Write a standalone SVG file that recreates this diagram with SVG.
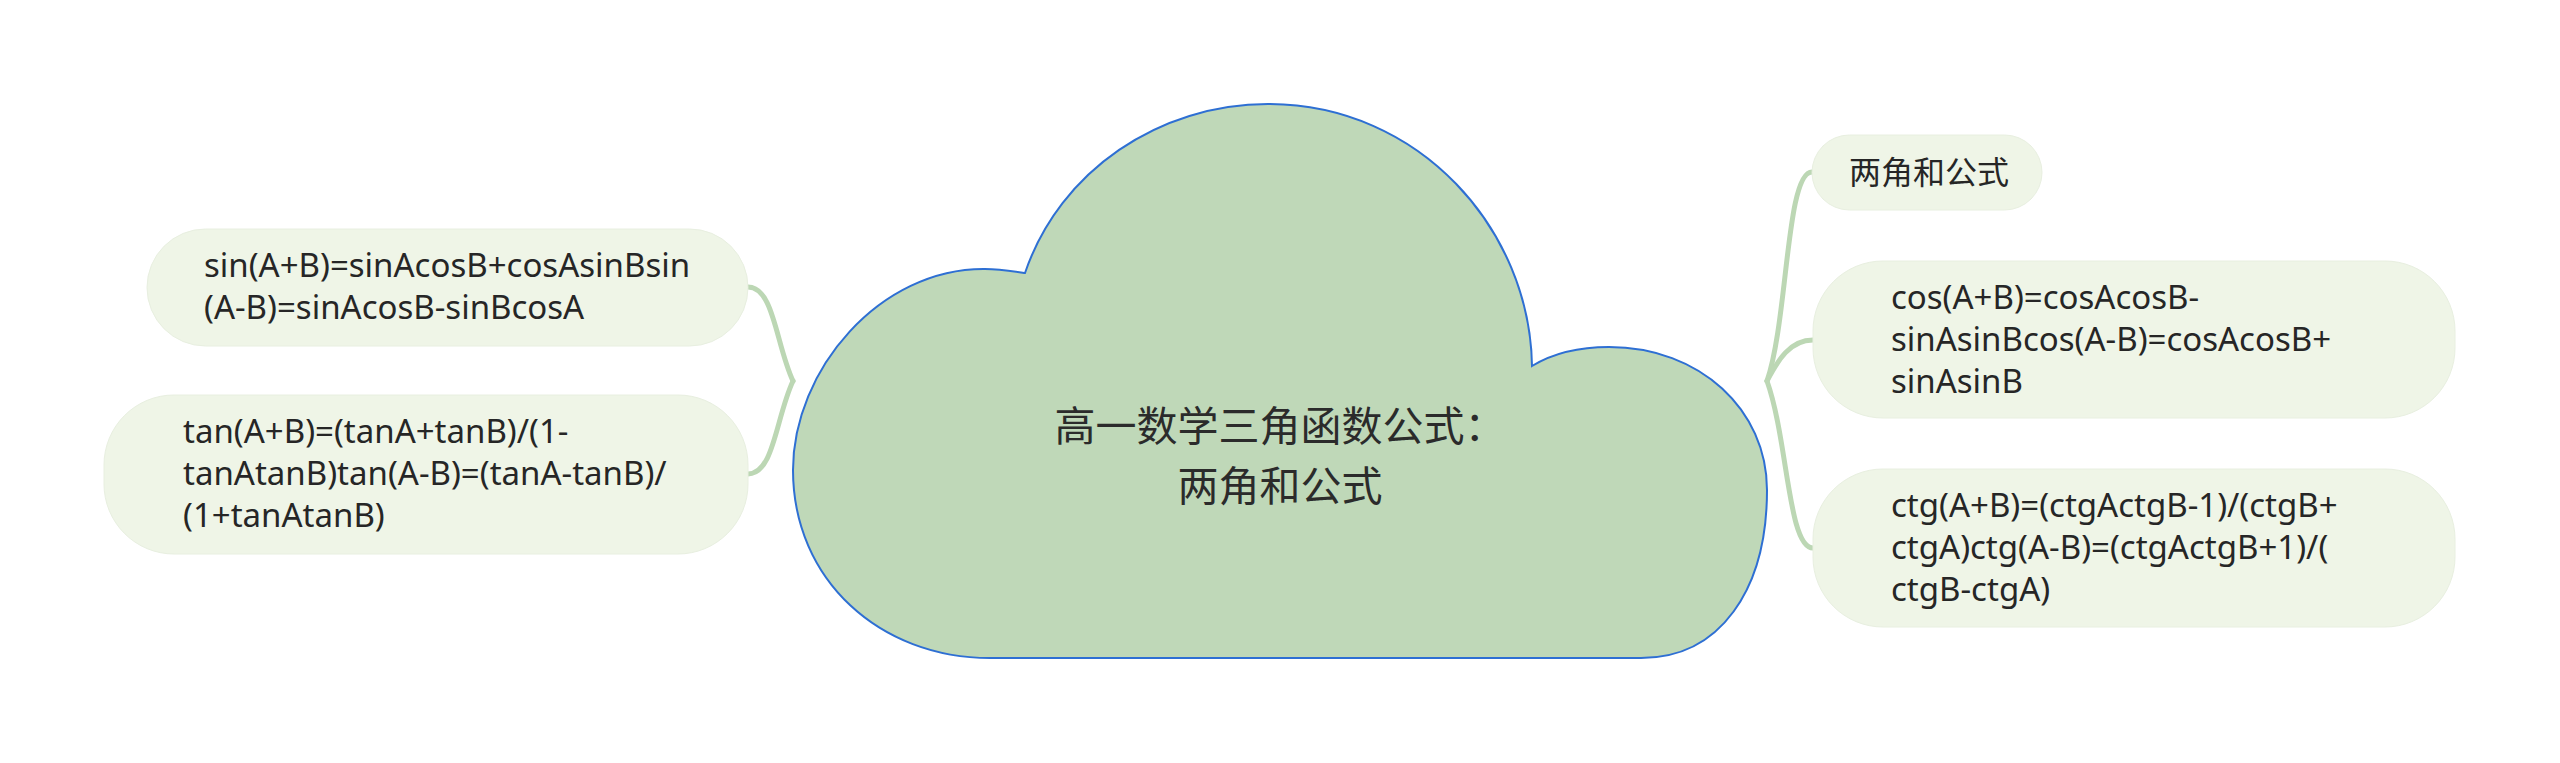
<svg xmlns="http://www.w3.org/2000/svg" width="2560" height="763" viewBox="0 0 2560 763">
<style>
.bg{fill:#ffffff}
.node rect{fill:#eff5e7;stroke:#e8efe0;stroke-width:1}
.t{font-family:"Noto Sans","Noto Sans CJK SC",sans-serif;font-size:33px;fill:#262626}
.tc{font-family:"Noto Sans","Noto Sans CJK SC",sans-serif;font-size:32px;fill:#262626}
.center{font-family:"Noto Sans CJK SC","Noto Sans",sans-serif;font-size:41px;fill:#2b2b2b;text-anchor:middle}
.conn path{fill:none;stroke:#bcd7b4;stroke-width:5;stroke-linecap:round}
.cloud{fill:#bfd8b8;stroke:#2e6fd3;stroke-width:2}
</style>
<rect class="bg" x="0" y="0" width="2560" height="763"/>
<g id="connectors" class="conn">
<path d="M 793 381 C 776 345, 774 287, 748 287"/>
<path d="M 793 381 C 776 417, 774 474, 748 474"/>
<path d="M 1767 381 C 1788 320, 1786 172, 1812 172"/>
<path d="M 1767 381 C 1778 360, 1790 340, 1813 340"/>
<path d="M 1767 381 C 1788 440, 1788 548, 1813 548"/>
</g>
<g id="center">
<path class="cloud" d="M 990 658 C 880 658, 793 580, 793 470 C 793 370, 880 268, 985 269 C 1000 269, 1012 271, 1025 273 C 1060 170, 1160 104, 1268 104 C 1420 104, 1530 230, 1532 366 C 1555 352, 1580 347, 1609 347 C 1700 347, 1767 410, 1767 490 C 1767 590, 1720 658, 1641 658 Z"/>
<text class="center"><tspan x="1280" y="441">高一数学三角函数公式：</tspan><tspan x="1280" y="501">两角和公式</tspan></text>
</g>
<g id="node-l1" class="node">
<rect x="147" y="229" width="601" height="117" rx="58.5"/>
<text class="t"><tspan x="204" y="277">sin(A+B)=sinAcosB+cosAsinBsin</tspan><tspan x="204" y="319">(A-B)=sinAcosB-sinBcosA</tspan></text>
</g>
<g id="node-l2" class="node">
<rect x="104" y="395" width="644" height="159" rx="70"/>
<text class="t"><tspan x="183" y="443">tan(A+B)=(tanA+tanB)/(1-</tspan><tspan x="183" y="485">tanAtanB)tan(A-B)=(tanA-tanB)/</tspan><tspan x="183" y="527">(1+tanAtanB)</tspan></text>
</g>
<g id="node-r1" class="node">
<rect x="1812" y="135" width="230" height="75" rx="37.5"/>
<text class="tc" x="1849" y="184">两角和公式</text>
</g>
<g id="node-r2" class="node">
<rect x="1813" y="261" width="642" height="157" rx="70"/>
<text class="t"><tspan x="1891" y="309">cos(A+B)=cosAcosB-</tspan><tspan x="1891" y="351">sinAsinBcos(A-B)=cosAcosB+</tspan><tspan x="1891" y="393">sinAsinB</tspan></text>
</g>
<g id="node-r3" class="node">
<rect x="1813" y="469" width="642" height="158" rx="70"/>
<text class="t"><tspan x="1891" y="517">ctg(A+B)=(ctgActgB-1)/(ctgB+</tspan><tspan x="1891" y="559">ctgA)ctg(A-B)=(ctgActgB+1)/(</tspan><tspan x="1891" y="601">ctgB-ctgA)</tspan></text>
</g>
</svg>
